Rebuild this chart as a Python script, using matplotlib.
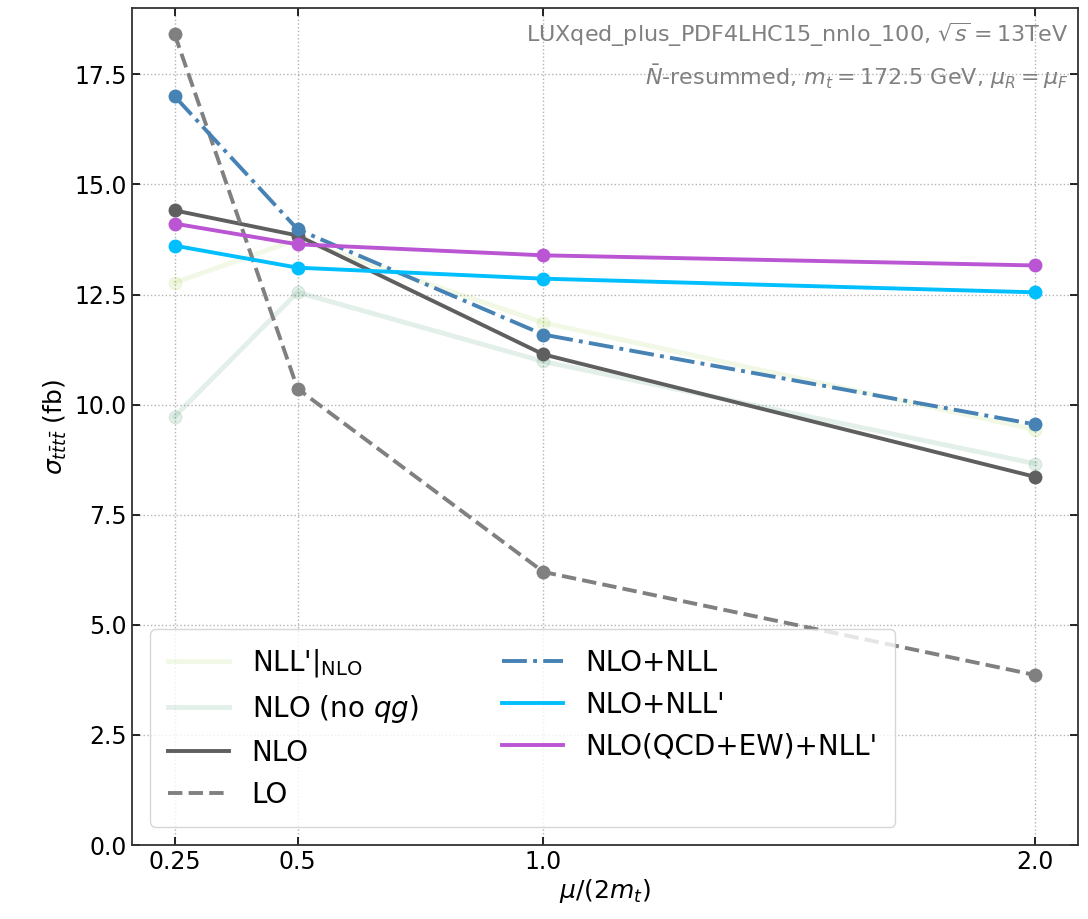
import matplotlib.pyplot as plt
import numpy as np

# scale choices mu/(2 m_t)
mu_scale = [0.25, 0.5, 1.0, 2.0]

# cross sections in fb
nll_prime_nlo = [12.77, 13.75, 11.86, 9.43]
nlo_no_qg = [9.73, 12.55, 10.98, 8.66]
nlo = [14.41, 13.84, 11.14, 8.36]
lo = [18.41, 10.36, 6.20, 3.86]
nlo_nll = [17.00, 13.98, 11.59, 9.55]
nlo_nll_prime = [13.61, 13.11, 12.86, 12.55]
nlo_qcd_ew_nll_prime = [14.11, 13.64, 13.39, 13.16]

plt.rcParams['font.family'] = 'DejaVu Sans'
plt.rcParams['mathtext.fontset'] = 'dejavusans'

fig = plt.figure(figsize=(10.88, 9.19), dpi=100)
ax = fig.add_axes([0.121, 0.0805, 0.870, 0.9105])

series = [
    (nll_prime_nlo, "NLL'$|_{\\rm NLO}$", dict(color='yellowgreen', alpha=0.12, ls='-', lw=3.5)),
    (nlo_no_qg, 'NLO (no $qg$)', dict(color='seagreen', alpha=0.13, ls='-', lw=3.5)),
    (nlo, 'NLO', dict(color='#5f5f5f', ls='-', lw=2.8)),
    (lo, 'LO', dict(color='#808080', ls='--', lw=2.8)),
    (nlo_nll, 'NLO+NLL', dict(color='steelblue', ls='-.', lw=2.8)),
    (nlo_nll_prime, "NLO+NLL'", dict(color='deepskyblue', ls='-', lw=2.8)),
    (nlo_qcd_ew_nll_prime, "NLO(QCD+EW)+NLL'", dict(color='mediumorchid', ls='-', lw=2.8)),
]

for values, label, style in series:
    ax.plot(mu_scale, values, label=label, **style)
    ax.plot(mu_scale, values, ls='none', marker='o', markersize=9,
            color=style['color'], alpha=style.get('alpha', 1.0))

ax.set_xlim(0.1625, 2.0875)
ax.set_ylim(0, 19)
ax.set_xticks(mu_scale)
ax.set_xticklabels(['0.25', '0.5', '1.0', '2.0'])
ax.set_yticks(np.arange(0, 18, 2.5))
ax.tick_params(direction='in', top=True, right=True, labelsize=17, length=6, width=1.2)
ax.grid(True, ls=':', color='gray', alpha=0.6, lw=1)
for sp in ax.spines.values():
    sp.set_linewidth(1.3)
    sp.set_color('#333333')

ax.set_xlabel('$\\mu/(2m_t)$', fontsize=18, labelpad=2)
ax.set_ylabel('$\\sigma_{t\\bar{t}t\\bar{t}}$ (fb)', fontsize=18)

ax.text(0.99, 0.985, 'LUXqed_plus_PDF4LHC15_nnlo_100, $\\sqrt{s}=13$TeV',
        transform=ax.transAxes, ha='right', va='top', fontsize=16, color='gray')
ax.text(0.99, 0.935, '$\\bar{N}$-resummed, $m_t=172.5$ GeV, $\\mu_R=\\mu_F$',
        transform=ax.transAxes, ha='right', va='top', fontsize=16, color='gray')

leg = ax.legend(loc='lower left', ncol=2, fontsize=20, handlelength=2.2,
                columnspacing=3.0, borderpad=0.65, labelspacing=0.5,
                bbox_to_anchor=(0.005, 0.005))

fig.savefig('out.png', dpi=100)
